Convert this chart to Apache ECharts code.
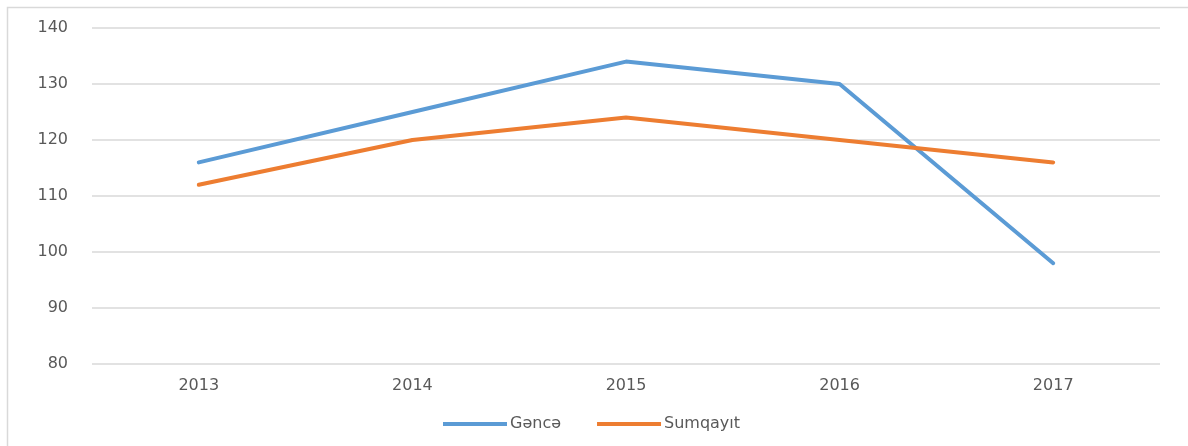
<!DOCTYPE html>
<html><head><meta charset="utf-8">
<script src="https://cdn.jsdelivr.net/npm/echarts@6/dist/echarts.min.js"></script>
<style>html,body{margin:0;padding:0;background:#fff}#c{width:1188px;height:446px}</style>
</head><body><div id="c"></div>
<script>
const categories = ['2013','2014','2015','2016','2017'];
const ganja = [116, 125, 134, 130, 98];
const sumqayit = [112, 120, 124, 120, 116];
const yTicks = {min: 80, max: 140, interval: 10};

const chart = echarts.init(document.getElementById('c'));
const txt = {color: '#595959', fontSize: 16, fontFamily: 'DejaVu Sans'};
chart.setOption({
  animation: false,
  backgroundColor: '#fff',
  graphic: [{type: 'rect', shape: {x: 7.5, y: 7.5, width: 1200, height: 460}, style: {fill: 'none', stroke: '#d9d9d9', lineWidth: 1.5}, silent: true}],
  grid: {left: 92, right: 28, top: 28, bottom: 82},
  legend: {
    bottom: 9, left: 438, itemGap: 36, itemWidth: 64, itemHeight: 4,
    icon: 'path://M0,0 L64,0 L64,4 L0,4 Z',
    textStyle: Object.assign({}, txt, {padding: [0, 0, 0, -2]}),
    data: ['Gəncə', 'Sumqayıt']
  },
  xAxis: {
    type: 'category', data: categories, boundaryGap: true,
    axisLine: {show: false}, axisTick: {show: false},
    axisLabel: Object.assign({}, txt, {margin: 14})
  },
  yAxis: {
    type: 'value', min: yTicks.min, max: yTicks.max, interval: yTicks.interval,
    axisLine: {show: false}, axisTick: {show: false},
    axisLabel: Object.assign({}, txt, {margin: 24}),
    splitLine: {lineStyle: {color: '#d9d9d9', width: 1.5}}
  },
  series: [
    {name: 'Gəncə', type: 'line', data: ganja, symbol: 'none', lineStyle: {color: '#5B9BD5', width: 4, cap: 'round'}, itemStyle: {color: '#5B9BD5'}},
    {name: 'Sumqayıt', type: 'line', data: sumqayit, symbol: 'none', lineStyle: {color: '#ED7D31', width: 4, cap: 'round'}, itemStyle: {color: '#ED7D31'}}
  ]
});
</script></body></html>
